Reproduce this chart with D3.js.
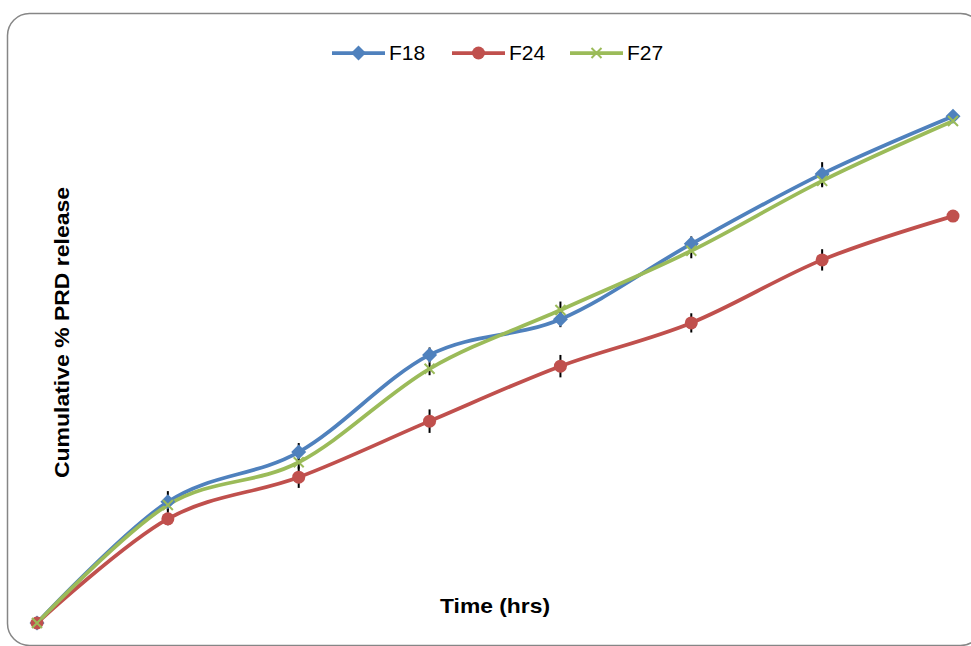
<!DOCTYPE html>
<html>
<head>
<meta charset="utf-8">
<script src="https://cdn.jsdelivr.net/npm/d3@7"></script>
<style>
  body { margin: 0; background: #fff; }
  svg { display: block; }
</style>
</head>
<body>
<div id="chart"></div>
<script>
// time points (hrs) - axis labels are not shown on the chart
const times = ["0", "1", "2", "3", "4", "5", "6", "7"];
const seriesNames = ["F18", "F24", "F27"];
const f18 = [0, 22.7, 32.0, 50.2, 56.9, 71.0, 84.1, 94.9];
const f24 = [0, 19.5, 27.3, 37.8, 48.1, 56.2, 68.0, 76.2];
const f27 = [0, 22.1, 30.1, 47.6, 58.6, 69.7, 82.8, 94.0];
const f18Err = [1.0, 2.0, 1.7, 1.4, 1.5, 1.4, 2.2, 0];
const f24Err = [0.8, 1.2, 2.0, 2.2, 2.1, 1.8, 2.0, 0];
const f27Err = [0.8, 1.0, 1.2, 1.2, 1.6, 1.4, 1.2, 0];

const width = 971, height = 646;
const colors = ["#4F81BD", "#C0504D", "#9BBB59"];
const shapes = ["diamond", "circle", "cross"];

const svg = d3.select("#chart").append("svg")
    .attr("width", width).attr("height", height);

// outer chart frame (rounded, runs off the right/bottom edge)
svg.append("rect")
    .attr("x", 7.5).attr("y", 13.5)
    .attr("width", 975).attr("height", 632)
    .attr("rx", 22).attr("ry", 22)
    .attr("fill", "#fff")
    .attr("stroke", "#868686").attr("stroke-width", 1.5);

const x = d3.scalePoint().domain(times).range([37, 953]);
const y = d3.scaleLinear().domain([0, 100]).range([623, 89]);

const data = [f18, f24, f27].map((vals, k) => ({
    name: seriesNames[k],
    color: colors[k],
    shape: shapes[k],
    points: vals.map((v, i) => ({t: times[i], v: v, e: [f18Err, f24Err, f27Err][k][i]}))
}));

// error bars first, lines and markers go on top
const eb = svg.append("g");
data.forEach(s => {
    eb.selectAll(null)
        .data(s.points.filter(p => p.e > 0))
        .enter().append("line")
        .attr("x1", p => x(p.t)).attr("x2", p => x(p.t))
        .attr("y1", p => y(p.v + p.e))
        .attr("y2", p => y(p.v - p.e))
        .attr("stroke", "#000").attr("stroke-width", 2);
});

const line = d3.line()
    .x(p => x(p.t)).y(p => y(p.v))
    .curve(d3.curveCardinal.tension(0));

function marker(g, shape, color, cx, cy) {
    if (shape === "diamond") {
        g.append("path")
            .attr("d", `M${cx},${cy - 7.5}L${cx + 7.5},${cy}L${cx},${cy + 7.5}L${cx - 7.5},${cy}Z`)
            .attr("fill", color);
    } else if (shape === "circle") {
        g.append("circle").attr("cx", cx).attr("cy", cy).attr("r", 6.5)
            .attr("fill", color);
    } else {
        g.append("path")
            .attr("d", `M${cx - 5},${cy - 5}L${cx + 5},${cy + 5}M${cx - 5},${cy + 5}L${cx + 5},${cy - 5}`)
            .attr("stroke", color).attr("stroke-width", 2).attr("fill", "none");
    }
}

data.forEach(s => {
    svg.append("path")
        .datum(s.points)
        .attr("d", line)
        .attr("fill", "none")
        .attr("stroke", s.color)
        .attr("stroke-width", 3.75)
        .attr("stroke-linecap", "round");
});
data.forEach(s => {
    const g = svg.append("g");
    s.points.forEach(p => marker(g, s.shape, s.color, x(p.t), y(p.v)));
});

// legend
const legX = [332, 452, 570];
data.forEach((s, k) => {
    const g = svg.append("g");
    g.append("line")
        .attr("x1", legX[k]).attr("x2", legX[k] + 53)
        .attr("y1", 53).attr("y2", 53)
        .attr("stroke", s.color).attr("stroke-width", 3.75);
    marker(g, s.shape, s.color, legX[k] + 26.5, 53);
    g.append("text")
        .attr("x", legX[k] + 57).attr("y", 60)
        .attr("font-family", "Liberation Sans, Arial, sans-serif")
        .attr("font-size", 21)
        .attr("fill", "#000")
        .text(s.name);
});

// axis titles
svg.append("text")
    .attr("x", 440).attr("y", 613)
    .attr("font-family", "Liberation Sans, Arial, sans-serif")
    .attr("font-weight", "bold")
    .attr("font-size", 21)
    .attr("textLength", 110)
    .attr("lengthAdjust", "spacingAndGlyphs")
    .text("Time (hrs)");

svg.append("text")
    .attr("transform", "translate(69,478) rotate(-90)")
    .attr("font-family", "Liberation Sans, Arial, sans-serif")
    .attr("font-weight", "bold")
    .attr("font-size", 21)
    .attr("textLength", 291)
    .attr("lengthAdjust", "spacingAndGlyphs")
    .text("Cumulative % PRD release");
</script>
</body>
</html>
